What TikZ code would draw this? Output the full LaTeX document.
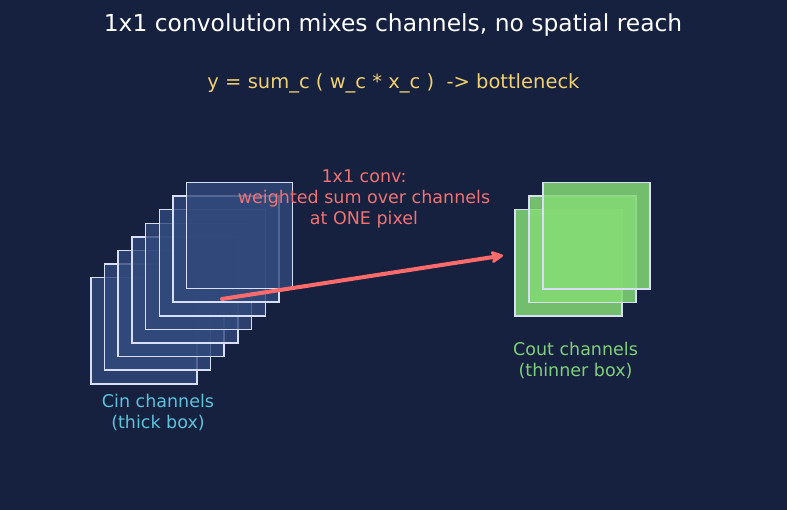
\documentclass[tikz,border=0pt]{standalone}
\usepackage{fontspec}
\setmainfont{DejaVu Sans}
\usetikzlibrary{arrows.meta}
\definecolor{bgc}{HTML}{16203F}
\definecolor{titlec}{HTML}{FFFFFF}
\definecolor{subc}{HTML}{F0D070}
\definecolor{convc}{HTML}{F07272}
\definecolor{arrowc}{HTML}{FF6B6B}
\definecolor{cinc}{HTML}{5BC3DC}
\definecolor{coutc}{HTML}{80D07A}
\definecolor{edgec}{HTML}{D8DEF5}
\definecolor{bluefill}{HTML}{32497C}
\definecolor{greenfill}{HTML}{84DA74}
\tikzset{
  chin/.style={draw=edgec, line width=1.5bp, fill=bluefill, fill opacity=0.8,
    minimum width=106bp, minimum height=106bp, inner sep=0pt, anchor=north west, rectangle},
  chout/.style={draw=edgec, line width=1.5bp, fill=greenfill, fill opacity=0.85,
    minimum width=107bp, minimum height=106bp, inner sep=0pt, anchor=north west, rectangle},
  lbl/.style={align=center, inner sep=0pt},
}
\begin{document}
\begin{tikzpicture}[x=1bp,y=-1bp]
\fill[bgc] (0,0) rectangle (787,510);
\useasboundingbox (0,0) rectangle (787,510);
\node[lbl, text=titlec, font=\fontsize{23.4bp}{28bp}\selectfont] (title) at (393,25) {1x1 convolution mixes channels, no spatial reach};
\node[lbl, text=subc, font=\fontsize{19.5bp}{24bp}\selectfont] (sub) at (393.5,83.5) {y = sum\_c ( w\_c * x\_c ) \ -> bottleneck};
% Cin channels
\foreach \i in {0,...,7} {
  \node[chin] (cin\i) at ({90+13.7*\i},{277-13.6*\i}) {};
}
% Cout channels
\foreach \i in {0,1,2} {
  \node[chout] (cout\i) at ({514+14*\i},{209-13.5*\i}) {};
}
\node[lbl, text=convc, font=\fontsize{17.5bp}{21bp}\selectfont] (conv) at (364,199) {1x1 conv:\\weighted sum over channels\\at ONE pixel};
\node[lbl, text=cinc, font=\fontsize{17.5bp}{21bp}\selectfont] (cinlbl) at (158,413) {Cin channels\\(thick box)};
\node[lbl, text=coutc, font=\fontsize{17.5bp}{21bp}\selectfont] (coutlbl) at (575.5,360.5) {Cout channels\\(thinner box)};
\coordinate (astart) at (222,299);
\coordinate (aend) at (503,255.5);
\draw[arrowc, line width=4bp, line cap=round, -{Stealth[length=15bp,width=15bp,inset=4bp,round]}] (astart) -- (aend);
\end{tikzpicture}
\end{document}
